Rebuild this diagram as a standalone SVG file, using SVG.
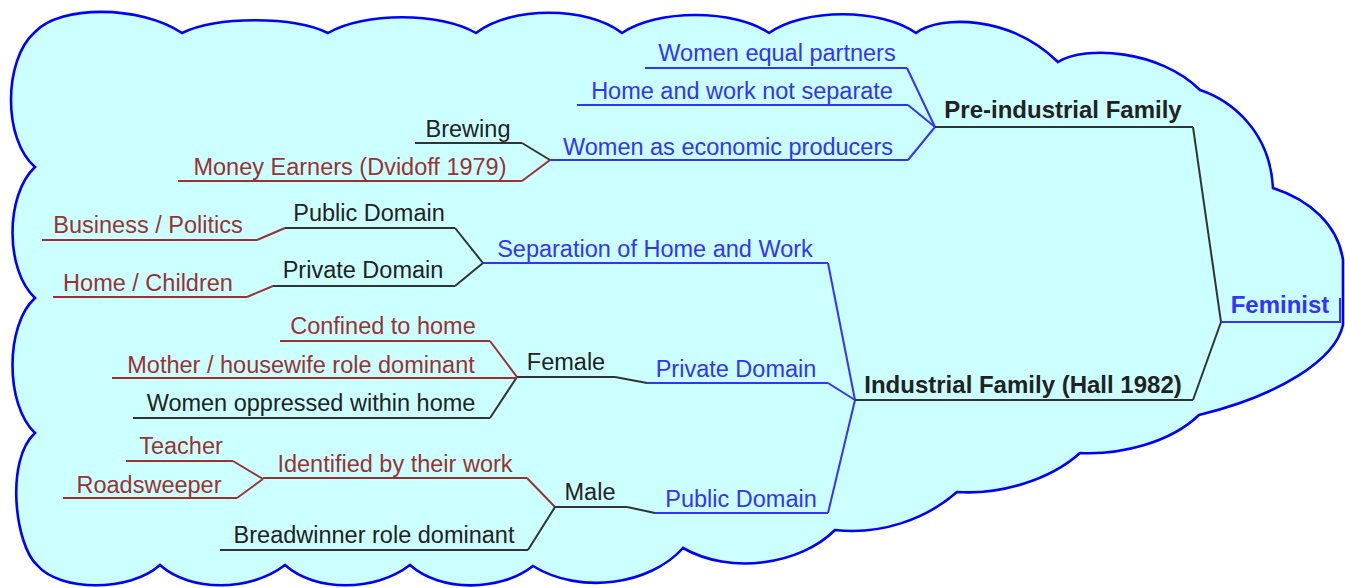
<svg xmlns="http://www.w3.org/2000/svg" width="1345" height="588" viewBox="0 0 1345 588">
<style>
text{font-family:"Liberation Sans",Arial,sans-serif;font-size:23.5px;text-anchor:middle}
.b{fill:#3333ff}.r{fill:#993333}.k{fill:#222222}
.bold{font-weight:bold;font-size:24px}
.lb{stroke:#3333ff;stroke-width:2;fill:none}
.lr{stroke:#993333;stroke-width:2;fill:none}
.lk{stroke:#333333;stroke-width:2;fill:none}
</style>
<rect width="1345" height="588" fill="#ffffff"/>
<path id="cloud" d="M35,167 C3,140 3,60 35,32 C60,5 140,5 182,33 C217,16 293,16 328,33 C363,12 441,12 476,33 C511,6 587,6 622,33 C657,9 734,9 769,33 C804,8 881,8 916,33 C940,15 1010,15 1058,62 C1085,45 1160,50 1200,90 C1230,100 1270,130 1273,188 C1310,200 1338,225 1343,260 L1343,325 C1335,360 1280,395 1199,415 C1170,443 1120,455 1080,453 C1050,480 1000,495 957,492 C925,520 880,535 835,530 C800,565 730,575 683,548 C650,585 580,595 533,566 C500,592 440,592 410,565 C375,592 315,592 285,565 C250,592 190,592 160,565 C130,592 60,592 37,565 C15,545 5,460 35,433 C5,405 5,325 35,298 C5,270 5,195 35,167 Z" fill="#ccffff" stroke="#0000ff" stroke-width="2.6" stroke-linejoin="miter"/>
<g id="connectors">
<path class="lb" d="M907,68 L935,127"/>
<path class="lb" d="M908,105 L935,127"/>
<path class="lb" d="M908,160 L935,127"/>
<path class="lk" d="M1193,127 L1221,322"/>
<path class="lk" d="M522,143 L550,160"/>
<path class="lr" d="M522,181 L550,160"/>
<path class="lk" d="M1193,400 L1221,322"/>
<path class="lb" d="M828,263 L855,400"/>
<path class="lk" d="M455,228 L483,263"/>
<path class="lk" d="M455,286 L483,263"/>
<path class="lr" d="M257,240 L285,228"/>
<path class="lr" d="M247,297 L273,286"/>
<path class="lb" d="M828,383 L855,400"/>
<path class="lk" d="M615,377 L647,383"/>
<path class="lr" d="M490,341 L517,377"/>
<path class="lk" d="M490,418 L517,377"/>
<path class="lb" d="M828,513 L855,400"/>
<path class="lk" d="M627,507 L655,513"/>
<path class="lr" d="M527,478 L555,507"/>
<path class="lk" d="M528,550 L555,507"/>
<path class="lr" d="M233,461 L263,479"/>
<path class="lr" d="M237,498 L263,479"/>
</g>
<g id="n-women-equal"><path class="lb" d="M645,68 H907"/><text class="b" x="777" y="61">Women equal partners</text></g>
<g id="n-home-work"><path class="lb" d="M577,105 H908"/><text class="b" x="742" y="99">Home and work not separate</text></g>
<g id="n-econ-producers"><path class="lb" d="M550,160 H908"/><text class="b" x="728" y="155">Women as economic producers</text></g>
<g id="n-preindustrial"><path class="lk" d="M935,127 H1193"/><text class="k bold" x="1063" y="118">Pre-industrial Family</text></g>
<g id="n-brewing"><path class="lk" d="M415,143 H522"/><text class="k" x="468" y="137">Brewing</text></g>
<g id="n-money"><path class="lr" d="M178,181 H522"/><text class="r" x="350" y="175">Money Earners (Dvidoff 1979)</text></g>
<g id="n-feminist"><path class="lb" d="M1221,322 H1340 V298"/><text class="b bold" x="1280" y="313">Feminist</text></g>
<g id="n-industrial"><path class="lk" d="M855,400 H1193"/><text class="k bold" x="1023" y="393">Industrial Family (Hall 1982)</text></g>
<g id="n-separation"><path class="lb" d="M483,263 H828"/><text class="b" x="655" y="257">Separation of Home and Work</text></g>
<g id="n-public-k"><path class="lk" d="M285,228 H455"/><text class="k" x="369" y="221">Public Domain</text></g>
<g id="n-private-k"><path class="lk" d="M273,286 H455"/><text class="k" x="363" y="278">Private Domain</text></g>
<g id="n-business"><path class="lr" d="M42,240 H257"/><text class="r" x="148" y="233">Business / Politics</text></g>
<g id="n-homechildren"><path class="lr" d="M53,297 H247"/><text class="r" x="148" y="291">Home / Children</text></g>
<g id="n-private-b"><path class="lb" d="M647,383 H828"/><text class="b" x="736" y="377">Private Domain</text></g>
<g id="n-female"><path class="lk" d="M517,377 H615"/><text class="k" x="566" y="370">Female</text></g>
<g id="n-confined"><path class="lr" d="M280,341 H490"/><text class="r" x="383" y="334">Confined to home</text></g>
<g id="n-mother"><path class="lr" d="M112,378 H517"/><text class="r" x="301" y="373">Mother / housewife role dominant</text></g>
<g id="n-oppressed"><path class="lk" d="M133,418 H490"/><text class="k" x="311" y="411">Women oppressed within home</text></g>
<g id="n-public-b"><path class="lb" d="M655,513 H828"/><text class="b" x="741" y="507">Public Domain</text></g>
<g id="n-male"><path class="lk" d="M555,507 H627"/><text class="k" x="590" y="500">Male</text></g>
<g id="n-identified"><path class="lr" d="M263,478 H527"/><text class="r" x="395" y="472">Identified by their work</text></g>
<g id="n-breadwinner"><path class="lk" d="M220,550 H528"/><text class="k" x="374" y="543">Breadwinner role dominant</text></g>
<g id="n-teacher"><path class="lr" d="M126,461 H233"/><text class="r" x="181" y="454">Teacher</text></g>
<g id="n-roadsweeper"><path class="lr" d="M63,498 H237"/><text class="r" x="149" y="493">Roadsweeper</text></g>
</svg>
